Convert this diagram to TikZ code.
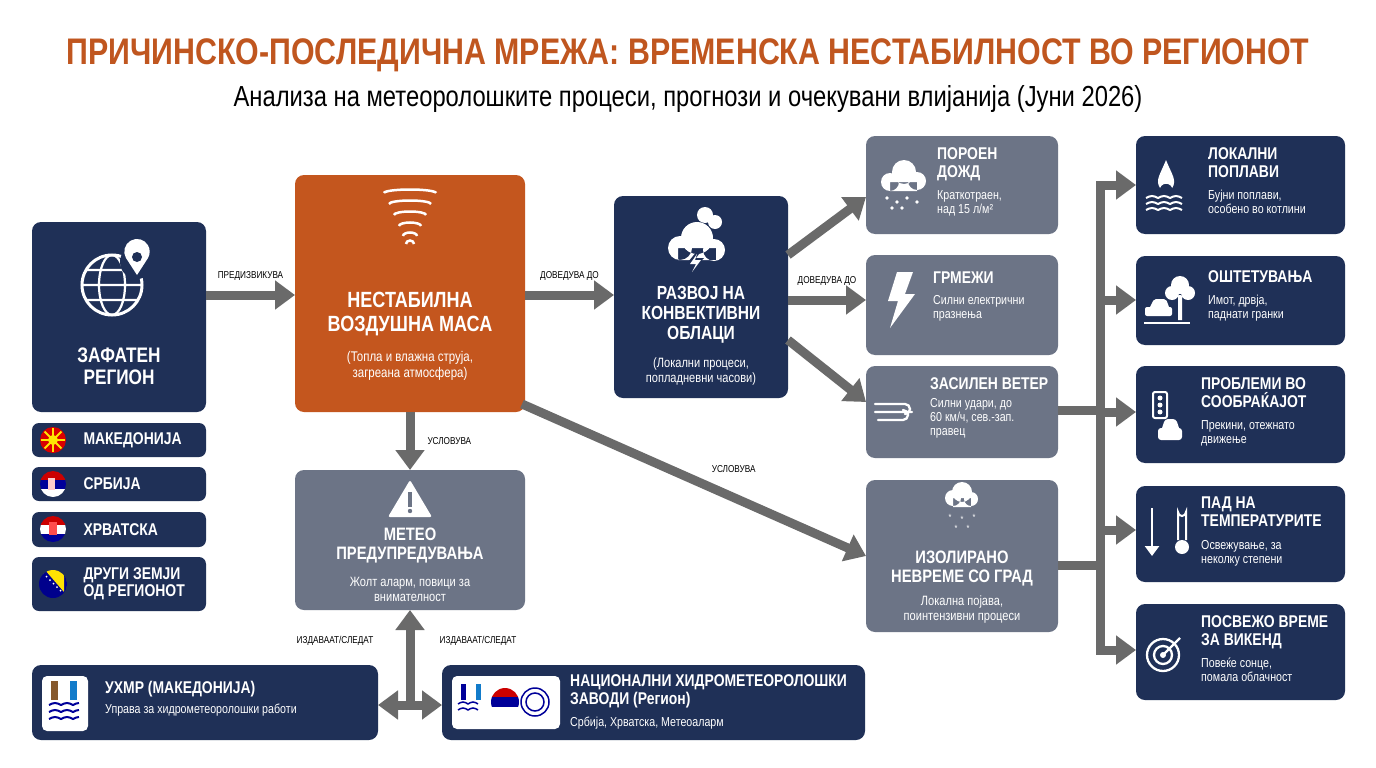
\documentclass[tikz,border=0pt]{standalone}
\usepackage{fontspec}
\setmainfont{Liberation Sans}[FakeStretch=0.82]
\usetikzlibrary{arrows.meta,positioning}
\definecolor{navy}{HTML}{1F3057}
\definecolor{slate}{HTML}{6C7486}
\definecolor{orng}{HTML}{C4561E}
\definecolor{arr}{HTML}{6A6A6A}
\definecolor{ttl}{HTML}{C0561F}
\begin{document}
\begin{tikzpicture}[x=1pt,y=-1pt,
 box/.style={draw=none,rounded corners=9pt,fill=#1},
 arrow/.style={draw=arr,line width=9pt,-{Triangle[length=20pt,width=28pt]}},
 trunk/.style={draw=arr,line width=9pt},
 lab/.style={font=\fontsize{10}{11}\selectfont,inner sep=1pt},
 hd/.style={text=white,font=\bfseries\fontsize{17}{18}\selectfont,align=left,anchor=north west,inner sep=0pt},
 sub/.style={text=white,font=\fontsize{13}{14}\selectfont,align=left,anchor=north west,inner sep=0pt},
 ico/.style={white,fill=white}]
\useasboundingbox (0,0) rectangle (1376,768);
\fill[white] (0,0) rectangle (1376,768);
% titles
\node[text=ttl,font=\bfseries\fontsize{37}{40}\selectfont] (title) at (688,55) {ПРИЧИНСКО-ПОСЛЕДИЧНА МРЕЖА: ВРЕМЕНСКА НЕСТАБИЛНОСТ ВО РЕГИОНОТ};
\node[font=\fontsize{29}{32}\selectfont] (subt) at (688,99) {Анализа на метеоролошките процеси, прогнози и очекувани влијанија (Јуни 2026)};
% region
\draw[box=navy] (32,222) rectangle (206,412);
\node (region) at (119,317) {};
\draw[white,line width=3pt] (112,285) circle (30);
\draw[white,line width=2.2pt] (112,285) ellipse (13 and 30) (82,285)--(142,285) (86,270)--(138,270) (86,300)--(138,300);
\fill[navy] (137,262) circle (17);
\fill[white] (137,275) -- (126,258) arc (150:390:12.7) -- cycle;
\fill[navy] (137,257) circle (5);
\node[text=white,font=\bfseries\fontsize{21}{22}\selectfont,align=center] at (119,366) {ЗАФАТЕН\\РЕГИОН};
% country pills
\foreach \ya/\yb/\t/\n in {423/457/МАКЕДОНИЈА/mk,467/501/СРБИЈА/rs,512/547/ХРВАТСКА/hr,557/611/{ДРУГИ ЗЕМЈИ\\ОД РЕГИОНОТ}/ot}{
 \draw[box=navy,rounded corners=7pt] (32,\ya) rectangle (206,\yb);
 \node[text=white,font=\bfseries\fontsize{17}{17}\selectfont,align=left,anchor=west] (\n) at (80,{(\ya+\yb)/2}) {\t};}
\fill[red!85!black] (53,440) circle (13); \fill[yellow!90!orange] (53,440) circle (5);
\foreach \a in {0,45,...,315} \draw[yellow!90!orange,line width=2pt] (53,440) -- ++(\a:12);
\begin{scope}\clip (53,484) circle (13);
\fill[red!80!black] (40,471) rectangle (66,480); \fill[blue!60!black] (40,480) rectangle (66,489); \fill[white] (40,489) rectangle (66,497);
\fill[white!80!red] (48,478) rectangle (55,490);\end{scope}
\begin{scope}\clip (53,529) circle (13);
\fill[red!80!black] (40,516) rectangle (66,525); \fill[white] (40,525) rectangle (66,534); \fill[blue!60!black] (40,534) rectangle (66,542);
\fill[red!70!white] (49,522) rectangle (57,535);\end{scope}
\begin{scope}\clip (53,584) circle (14);
\fill[blue!55!black] (39,570) rectangle (67,598); \fill[yellow!85!orange] (45,570)--(64,570)--(64,592)--cycle;
\foreach \i in {0,...,5} \fill[white] ({43+\i*3.5},{573+\i*3.5}) circle (1);\end{scope}
% orange
\draw[box=orng] (295,175) rectangle (525,412);
\node (inst) at (410,293) {};
\foreach \r/\y in {26/193,21/204,16/215,11/226,7/236,4/244} \draw[white,line width=2.5pt] ({410-\r},\y) arc[start angle=180,end angle=360,x radius=\r,y radius=3.5];
\node[text=white,font=\bfseries\fontsize{22}{24}\selectfont,align=center] at (410,314) {НЕСТАБИЛНА\\ВОЗДУШНА МАСА};
\node[text=white,font=\fontsize{14}{16}\selectfont,align=center] at (410,366) {(Топла и влажна струја,\\загреана атмосфера)};
% meteo
\draw[box=slate] (295,470) rectangle (525,610);
\node (meteo) at (410,540) {};
\fill[white,rounded corners=2pt] (410,480)--(432,517)--(388,517)--cycle;
\fill[slate] (408,492) rectangle (412,507); \fill[slate] (410,511) circle (2.2);
\node[text=white,font=\bfseries\fontsize{18}{19}\selectfont,align=center] at (410,546) {МЕТЕО\\ПРЕДУПРЕДУВАЊА};
\node[text=white,font=\fontsize{13.5}{15}\selectfont,align=center] at (410,589) {Жолт аларм, повици за\\внимателност};
% convective
\draw[box=navy] (614,196) rectangle (788,398);
\node (conv) at (701,297) {};
\fill[white] (680,248) circle (12) (697,238) circle (16) (714,250) circle (11) (678,248) rectangle (716,260);
\fill[white] (705,215) circle (8) (715,222) circle (7);
\fill[navy] (698,250)--(688,262)--(696,262)--(690,274)--(704,258)--(696,258)--(702,250)--cycle;
\fill[white] (697,254)--(690,264)--(696,264)--(692,272)--(701,260)--(695,260)--cycle;
\node[text=white,font=\bfseries\fontsize{19}{20}\selectfont,align=center] at (701,315) {РАЗВОЈ НА\\КОНВЕКТИВНИ\\ОБЛАЦИ};
\node[text=white,font=\fontsize{13.5}{15}\selectfont,align=center] at (701,372) {(Локални процеси,\\попладневни часови)};
% rain
\draw[box=slate] (866,136) rectangle (1058,234); \node (rain) at (962,185) {};
\fill[white] (890,182) circle (9) (904,172) circle (12) (917,181) circle (9) (890,182) rectangle (917,191);
\foreach \x/\y in {887/198,897/202,907/198,917/202,892/208,902/208} \fill[white] (\x,\y) circle (1.8);
\node[hd] at (937,147) {ПОРОЕН\\ДОЖД};
\node[sub] at (937,190) {Краткотраен,\\над 15 л/м²};
% thunder
\draw[box=slate] (866,255) rectangle (1058,355); \node (thun) at (962,305) {};
\fill[white] (897,272)--(913,272)--(905,294)--(915,294)--(890,328)--(898,301)--(888,301)--cycle;
\node[hd] at (933,272) {ГРМЕЖИ};
\node[sub] at (933,295) {Силни електрични\\празнења};
% wind
\draw[box=slate] (866,366) rectangle (1058,458); \node (wind) at (962,412) {};
\draw[white,line width=2.3pt,line cap=round] (875,404)--(905,404) arc (-90:90:5) (875,412)--(912,412) (878,420)--(903,420) arc (90:-90:5);
\node[hd] at (930,377) {ЗАСИЛЕН ВЕТЕР};
\node[sub] at (930,398) {Силни удари, до\\60 км/ч, сев.-зап.\\правец};
% hail
\draw[box=slate] (866,480) rectangle (1058,632); \node (hail) at (962,556) {};
\fill[white] (953,498) circle (8) (962,492) circle (10) (971,499) circle (7) (953,498) rectangle (971,507);
\foreach \x/\y in {950/517,962/519,974/517,956/528,968/528} \node[white,font=\fontsize{9}{9}\selectfont] at (\x,\y) {*};
\node[text=white,font=\bfseries\fontsize{18}{19}\selectfont,align=center] at (962,569) {ИЗОЛИРАНО\\НЕВРЕМЕ СО ГРАД};
\node[text=white,font=\fontsize{13.5}{15}\selectfont,align=center] at (962,610) {Локална појава,\\поинтензивни процеси};
% right boxes
\draw[box=navy] (1136,136) rectangle (1345,234); \node (flood) at (1240,185) {};
\fill[white] (1166,160) .. controls (1160,175) and (1155,180) .. (1160,188) arc (200:340:6.5) .. controls (1177,180) and (1172,175) .. (1166,160);
\foreach \y in {198,204,210} \draw[white,line width=2pt] (1146,\y) sin (1152,\y-2) cos (1158,\y) sin (1164,\y-2) cos (1170,\y) sin (1176,\y-2) cos (1182,\y);
\node[hd] at (1208,147) {ЛОКАЛНИ\\ПОПЛАВИ};
\node[sub] at (1208,190) {Бујни поплави,\\особено во котлини};
\draw[box=navy] (1136,256) rectangle (1345,345); \node (dmg) at (1240,300) {};
\fill[white] (1180,285) circle (9) (1172,293) circle (7) (1188,293) circle (7) (1178,295) rectangle (1182,320);
\fill[white,rounded corners=2pt] (1145,316) rectangle (1172,307) (1150,307)--(1154,299)--(1166,299)--(1169,307);
\fill[white] (1144,322) rectangle (1190,324);
\node[hd] at (1208,270) {ОШТЕТУВАЊА};
\node[sub] at (1208,295) {Имот, дрвја,\\паднати гранки};
\draw[box=navy] (1136,366) rectangle (1345,463); \node (traf) at (1240,414) {};
\draw[white,line width=2pt,rounded corners=2pt] (1153,392) rectangle (1167,418);
\foreach \y in {398,405,412} \fill[white] (1160,\y) circle (2.5);
\fill[white,rounded corners=3pt] (1158,428) rectangle (1182,440) (1162,428)--(1165,419)--(1176,419)--(1179,428);
\node[hd] at (1201,377) {ПРОБЛЕМИ ВО\\СООБРАЌАЈОТ};
\node[sub] at (1201,420) {Прекини, отежнато\\движење};
\draw[box=navy] (1136,486) rectangle (1345,582); \node (temp) at (1240,534) {};
\draw[white,line width=2.5pt,-{Triangle[length=10pt,width=14pt]}] (1152,508)--(1152,556);
\draw[white,line width=2pt] (1178,540)--(1178,512) arc (180:0:4) -- (1186,540); \fill[white] (1182,547) circle (7);
\node[hd] at (1201,497) {ПАД НА\\ТЕМПЕРАТУРИТЕ};
\node[sub] at (1201,540) {Освежување, за\\неколку степени};
\draw[box=navy] (1136,604) rectangle (1345,700); \node (week) at (1240,652) {};
\draw[white,line width=2.3pt] (1163,655) circle (16) (1163,655) circle (9); \fill[white] (1163,655) circle (3);
\draw[white,line width=2.3pt] (1163,655)--(1180,638);
\node[hd] at (1201,615) {ПОСВЕЖО ВРЕМЕ\\ЗА ВИКЕНД};
\node[sub] at (1201,658) {Повеќе сонце,\\помала облачност};
% bottom institutions
\draw[box=navy] (32,665) rectangle (378,740); \node (uhmr) at (205,702) {};
\fill[white,rounded corners=5pt] (42,676) rectangle (88,731);
\fill[brown!70!black] (51,681) rectangle (58,700); \fill[cyan!60!blue] (70,681) rectangle (77,700);
\foreach \y in {705,712,719} \draw[blue!60!black,line width=2pt] (49,\y) sin (55,\y-2) cos (61,\y) sin (67,\y-2) cos (73,\y) sin (79,\y-2);
\node[hd] at (105,681) {УХМР (МАКЕДОНИЈА)};
\node[sub] at (105,704) {Управа за хидрометеоролошки работи};
\draw[box=navy] (442,665) rectangle (865,740); \node (nat) at (653,702) {};
\fill[white,rounded corners=5pt] (452,676) rectangle (560,729);
\fill[blue!60!black] (461,684) rectangle (466,700); \fill[cyan!60!blue] (476,684) rectangle (481,700);
\foreach \y in {704,710} \draw[blue!60!black,line width=1.5pt] (458,\y) sin (463,\y-2) cos (468,\y) sin (473,\y-2) cos (478,\y);
\begin{scope}\clip (505,702) circle (14); \fill[red!80!black] (490,686) rectangle (520,697); \fill[blue!60!black] (490,697) rectangle (520,707); \fill[white] (490,707) rectangle (520,718);\end{scope}
\draw[blue!60!black,line width=1.5pt] (535,702) circle (14) (535,702) circle (9);
\node[hd] at (570,674) {НАЦИОНАЛНИ ХИДРОМЕТЕОРОЛОШКИ\\ЗАВОДИ (Регион)};
\node[sub] at (570,717) {Србија, Хрватска, Метеоаларм};
% arrows
\coordinate (a1s) at (206,295); \coordinate (a1e) at (295,295);
\draw[arrow] (a1s) -- (a1e) node[lab,midway,above=9pt] {ПРЕДИЗВИКУВА};
\coordinate (a2s) at (525,295); \coordinate (a2e) at (614,295);
\draw[arrow] (a2s) -- (a2e) node[lab,midway,above=9pt] {ДОВЕДУВА ДО};
\coordinate (c1) at (788,255); \coordinate (c1e) at (866,197);
\draw[arrow] (c1) -- (c1e);
\coordinate (c2) at (788,300); \coordinate (c2e) at (866,300);
\draw[arrow] (c2) -- (c2e) node[lab,pos=0.5,above=9pt] {ДОВЕДУВА ДО};
\coordinate (c3) at (788,340); \coordinate (c3e) at (866,402);
\draw[arrow] (c3) -- (c3e);
\coordinate (o1) at (410,412); \coordinate (o1e) at (410,470);
\draw[arrow] (o1) -- (o1e) node[lab,midway,right=12pt] {УСЛОВУВА};
\coordinate (o2) at (522,404); \coordinate (o2e) at (866,556);
\draw[arrow] (o2) -- (o2e) node[lab,pos=0.53,above right=6pt and 2pt] {УСЛОВУВА};
\coordinate (m1) at (410,705); \coordinate (m1e) at (410,610);
\draw[arrow] (m1) -- (m1e);
\node[lab] at (335,641) {ИЗДАВААТ/СЛЕДАТ};
\node[lab] at (478,641) {ИЗДАВААТ/СЛЕДАТ};
\coordinate (h1) at (378,705); \coordinate (h2) at (442,705);
\draw[draw=arr,line width=9pt,{Triangle[length=20pt,width=28pt]}-{Triangle[length=20pt,width=28pt]}] (h1) -- (h2);
% trunk
\coordinate (t0) at (1058,410); \coordinate (t1) at (1058,565);
\coordinate (tt) at (1100,181); \coordinate (tb) at (1100,650);
\draw[trunk] (t0) -- (1104,410); \draw[trunk] (t1) -- (1104,565);
\draw[trunk] (tt) -- (tb);
\foreach \y/\n in {185/flood,300/dmg,412/traf,530/temp,650/week}{
 \coordinate (ts\y) at (1096,\y); \coordinate (te\y) at (1136,\y);
 \draw[arrow] (ts\y) -- (te\y);}
\end{tikzpicture}
\end{document}
